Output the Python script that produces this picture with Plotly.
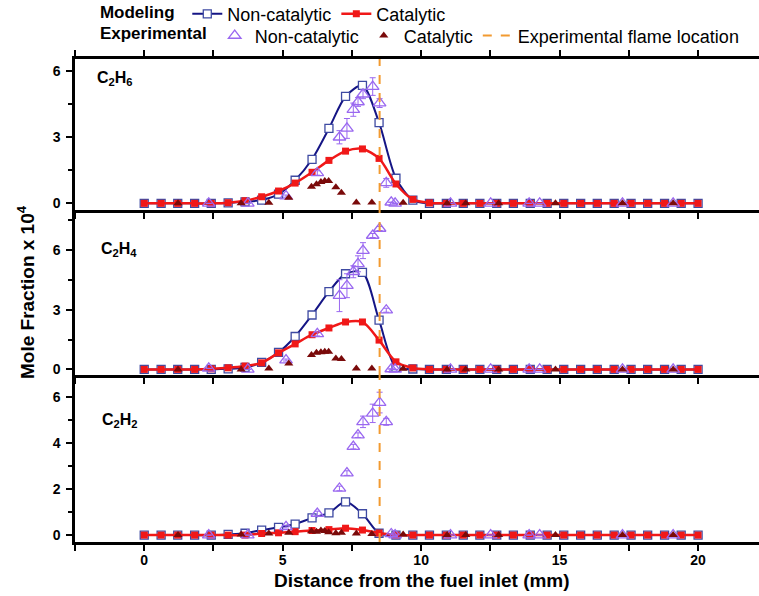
import plotly.graph_objects as go
from plotly.subplots import make_subplots

# ---------------- data ----------------
x_model = [0.00, 0.61, 1.21, 1.82, 2.42, 3.03, 3.64, 4.24, 4.85, 5.45, 6.06, 6.67,
           7.27, 7.88, 8.48, 9.09, 9.70, 10.30, 10.91, 11.52, 12.12, 12.73, 13.33,
           13.94, 14.55, 15.15, 15.76, 16.36, 16.97, 17.58, 18.18, 18.79, 19.39, 20.00]

c2h6_model_noncat = [0, 0, 0, 0, 0, 0.02, 0.07, 0.15, 0.42, 1.05, 2.0, 3.4, 4.85, 5.35, 3.66,
                     1.14, 0.15, 0, 0, 0, 0, 0, 0, 0, 0, 0, 0, 0, 0, 0, 0, 0, 0, 0]
c2h6_model_cat = [0, 0, 0, 0, 0, 0.03, 0.12, 0.3, 0.56, 0.92, 1.41, 1.95, 2.37, 2.47, 2.04,
                  0.88, 0.18, 0.02, 0, 0, 0, 0, 0, 0, 0, 0, 0, 0, 0, 0, 0, 0, 0, 0]
c2h4_model_noncat = [0, 0, 0, 0, 0, 0.03, 0.1, 0.35, 0.85, 1.65, 2.73, 3.9, 4.8, 4.87, 2.47,
                     0.1, 0.02, 0, 0, 0, 0, 0, 0, 0, 0, 0, 0, 0, 0, 0, 0, 0, 0, 0]
c2h4_model_cat = [0, 0, 0, 0, 0.03, 0.08, 0.17, 0.33, 0.83, 1.28, 1.74, 2.08, 2.38, 2.38, 1.47,
                  0.38, 0.07, 0, 0, 0, 0, 0, 0, 0, 0, 0, 0, 0, 0, 0, 0, 0, 0, 0]
c2h2_model_noncat = [0, 0, 0, 0, 0, 0.03, 0.08, 0.22, 0.34, 0.48, 0.75, 0.97, 1.45, 0.93, 0.08,
                     0, 0, 0, 0, 0, 0, 0, 0, 0, 0, 0, 0, 0, 0, 0, 0, 0, 0, 0]
c2h2_model_cat = [0, 0, 0, 0, 0, 0, 0, 0.07, 0.1, 0.15, 0.2, 0.24, 0.3, 0.22, 0.09,
                  0, 0, 0, 0, 0, 0, 0, 0, 0, 0, 0, 0, 0, 0, 0, 0, 0, 0, 0]

x_exp_noncat = [2.33, 3.74, 5.12, 6.25, 7.05, 7.32, 7.55, 7.72, 7.90, 8.25, 8.50, 8.74, 8.92,
                9.06, 11.06, 12.51, 13.90, 14.28, 17.27, 19.10]
c2h6_exp_noncat = [0, 0, 0.33, 1.38, 3.0, 3.4, 4.25, 4.6, 4.95, 5.3, 4.55, 0.93, 0.05, 0,
                   0, 0, 0, 0, 0, 0]
c2h6_exp_noncat_err = [0, 0, 0.05, 0.1, 0.3, 0.45, 0.3, 0.2, 0.2, 0.4, 0.2, 0.2, 0, 0,
                       0, 0, 0, 0, 0, 0]
c2h4_exp_noncat = [0.05, 0, 0.47, 1.78, 3.7, 4.2, 4.9, 5.3, 5.96, 6.72, 7.07, 2.97, 0.02, 0,
                   0, 0, 0, 0, 0, 0]
c2h4_exp_noncat_err = [0, 0, 0.05, 0.1, 0.8, 0.6, 0.3, 0.4, 0.4, 0.1, 0.1, 0.1, 0, 0,
                       0, 0, 0, 0, 0, 0]
c2h2_exp_noncat = [0, 0, 0.36, 0.94, 2.03, 2.7, 3.85, 4.35, 4.93, 5.3, 5.77, 4.93, 0.05, 0,
                   0, 0, 0, 0, 0, 0]
c2h2_exp_noncat_err = [0, 0, 0.05, 0.1, 0.1, 0.1, 0.1, 0.1, 0.25, 0.4, 0.45, 0.15, 0, 0,
                       0, 0, 0, 0, 0, 0]

x_exp_cat = [1.22, 3.50, 4.50, 5.22, 6.04, 6.22, 6.38, 6.52, 6.66, 6.92, 7.12, 7.66, 8.22,
             9.35, 10.94, 11.61, 12.80, 14.85, 17.27, 19.10]
c2h6_exp_cat = [0, 0, 0.03, 0.25, 0.75, 0.87, 0.97, 1.02, 1.02, 0.73, 0.48, 0.04, 0.04, 0.03,
                0, 0, 0, 0, 0, 0]
c2h4_exp_cat = [0, 0, 0.05, 0.3, 0.72, 0.83, 0.86, 0.88, 0.88, 0.55, 0.52, 0.04, 0.04, 0.03,
                0, 0, 0, 0, 0, 0]
c2h2_exp_cat = [0, 0.03, 0.07, 0.1, 0.17, 0.15, 0.2, 0.18, 0.12, 0.08, 0.1, 0.07, 0.05, 0.03,
                0, 0, 0, 0, 0, 0]

flame_location = 8.5

species_labels = ["C<sub>2</sub>H<sub>6</sub>", "C<sub>2</sub>H<sub>4</sub>", "C<sub>2</sub>H<sub>2</sub>"]
x_tick_vals = [0, 5, 10, 15, 20]
y_tick_vals = [[0, 3, 6], [0, 3, 6], [0, 2, 4, 6]]

# ---------------- styling ----------------
NAVY = "#151585"
NAVY_MK = "#3e4aa2"
RED = "#f01818"
PURPLE = "#9a68f0"
DARKRED = "#7a0a0a"
ORANGE = "#f29a30"
FONT = "Liberation Sans, Arial, sans-serif"

panels = [
    (c2h6_model_noncat, c2h6_model_cat, c2h6_exp_noncat, c2h6_exp_noncat_err, c2h6_exp_cat),
    (c2h4_model_noncat, c2h4_model_cat, c2h4_exp_noncat, c2h4_exp_noncat_err, c2h4_exp_cat),
    (c2h2_model_noncat, c2h2_model_cat, c2h2_exp_noncat, c2h2_exp_noncat_err, c2h2_exp_cat),
]

fig = make_subplots(rows=3, cols=1, vertical_spacing=0)

for i, (mn, mc, en, ee, ec) in enumerate(panels):
    r = i + 1
    first = (r == 1)
    fig.add_trace(go.Scatter(
        x=x_model, y=mn, mode="lines+markers", name="Non-catalytic",
        legend="legend", showlegend=first,
        line=dict(color=NAVY, width=2, shape="spline", smoothing=0.8),
        marker=dict(symbol="square", size=8, color="white", line=dict(color=NAVY_MK, width=1.3)),
    ), row=r, col=1)
    fig.add_trace(go.Scatter(
        x=x_model, y=mc, mode="lines+markers", name="Catalytic",
        legend="legend", showlegend=first,
        line=dict(color=RED, width=2.5, shape="spline", smoothing=0.8),
        marker=dict(symbol="square", size=7, color=RED, line=dict(color=RED, width=0)),
    ), row=r, col=1)
    fig.add_trace(go.Scatter(
        x=x_exp_noncat, y=en, mode="markers", name="Non-catalytic",
        legend="legend2", showlegend=first,
        marker=dict(symbol="triangle-up-open", size=11, color=PURPLE, line=dict(width=1.3)),
        error_y=dict(type="data", array=ee, color=PURPLE, thickness=1, width=3),
    ), row=r, col=1)
    fig.add_trace(go.Scatter(
        x=x_exp_cat, y=ec, mode="markers", name="Catalytic",
        legend="legend2", showlegend=first,
        marker=dict(symbol="triangle-up", size=8, color=DARKRED),
    ), row=r, col=1)
    fig.add_vline(x=flame_location, line=dict(color=ORANGE, width=2, dash="dash"), row=r, col=1)

# legend entry for the flame location line
fig.add_trace(go.Scatter(
    x=[None], y=[None], mode="lines", name="Experimental flame location",
    legend="legend2", line=dict(color=ORANGE, width=2, dash="dash"),
), row=1, col=1)

# ---------------- axes ----------------
y_domains = [[0.6874, 1.0], [0.3458, 0.6874], [0.0, 0.3458]]
y_ranges = [[-0.3, 6.55], [-0.28, 8.0], [-0.3, 6.97]]
y_minor = [1.5, 1.5, 1.0]

for i in range(3):
    r = i + 1
    fig.update_xaxes(
        row=r, col=1, domain=[0, 1], range=[-2.5, 22.2],
        showline=True, linecolor="black", linewidth=2.5,
        mirror="ticks" if r == 1 else False,
        ticks="outside", ticklen=6, tickwidth=2, tickcolor="black",
        tickvals=x_tick_vals, showticklabels=(r == 3),
        minor=dict(dtick=2.5, tick0=0, ticks="outside", ticklen=6, tickwidth=2, tickcolor="black"),
        showgrid=False, zeroline=False,
        tickfont=dict(family=FONT, size=14, color="black", weight="bold"),
        ticklabelstandoff=-3,
    )
    fig.update_yaxes(
        row=r, col=1, domain=y_domains[i], range=y_ranges[i],
        showline=True, linecolor="black", linewidth=2.5,
        ticks="outside", ticklen=6, tickwidth=2, tickcolor="black",
        tickvals=y_tick_vals[i],
        minor=dict(dtick=y_minor[i], tick0=0, ticks="outside", ticklen=4, tickwidth=1.5, tickcolor="black"),
        showgrid=False, zeroline=False,
        tickfont=dict(family=FONT, size=14, color="black", weight="bold"),
        ticklabelstandoff=3,
    )

# ---------------- annotations ----------------
label_pos = [(0.029, 0.874), (0.035, 0.758), (0.037, 0.73)]
for i, lab in enumerate(species_labels):
    r = i + 1
    xref = "x domain" if r == 1 else f"x{r} domain"
    yref = "y domain" if r == 1 else f"y{r} domain"
    fig.add_annotation(text="<b>" + lab + "</b>", xref=xref, yref=yref,
                       x=label_pos[i][0], y=label_pos[i][1], xanchor="left", yanchor="middle",
                       showarrow=False, font=dict(family=FONT, size=16, color="black"))

fig.add_annotation(text="<b>Mole Fraction x 10<sup>4</sup></b>", xref="paper", yref="paper",
                   x=-0.0716, y=0.5176, xanchor="center", yanchor="middle", textangle=-90,
                   showarrow=False, font=dict(family=FONT, size=19, color="black"))
fig.add_annotation(text="<b>Distance from the fuel inlet (mm)</b>", xref="paper", yref="paper",
                   x=0.507, y=-0.0787, xanchor="center", yanchor="middle",
                   showarrow=False, font=dict(family=FONT, size=19, color="black"))

# ---------------- layout / legends ----------------
NB = "&nbsp;"
fig.update_layout(
    width=759, height=596,
    margin=dict(l=75, r=0, t=59, b=54, autoexpand=False),
    plot_bgcolor="white", paper_bgcolor="white",
    font=dict(family=FONT, color="black"),
    legend=dict(
        orientation="h", x=-0.001, y=1.093, xanchor="left", yanchor="middle",
        bgcolor="rgba(0,0,0,0)", itemwidth=30,
        title=dict(text=NB * 5 + "<b>Modeling</b>" + NB, side="left", font=dict(family=FONT, size=17)),
        font=dict(family=FONT, size=18, color="black"),
    ),
    legend2=dict(
        orientation="h", x=-0.001, y=1.048, xanchor="left", yanchor="middle",
        bgcolor="rgba(0,0,0,0)", itemwidth=30,
        title=dict(text=NB * 5 + "<b>Experimental</b>", side="left", font=dict(family=FONT, size=17)),
        font=dict(family=FONT, size=18, color="black"),
    ),
)

# remove the page's default body margin so the figure fills the window exactly
fig.write_html("out.html", config={"displayModeBar": False},
               post_script="document.body.style.margin='0px';")
